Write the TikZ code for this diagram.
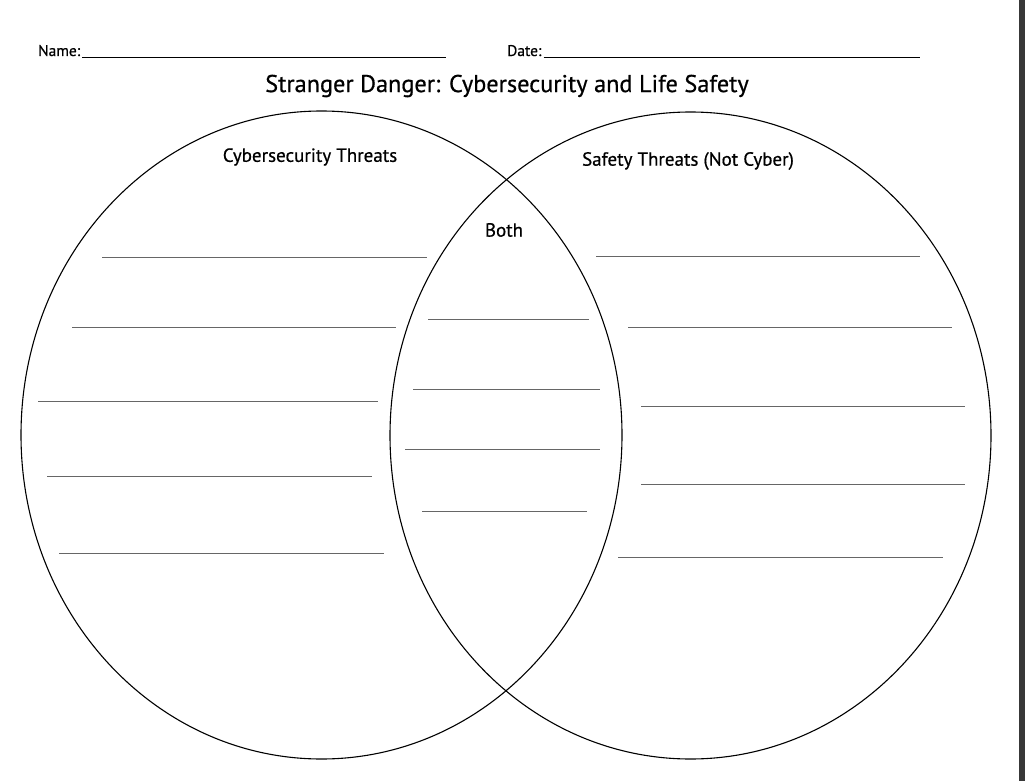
\documentclass[tikz,border=0pt]{standalone}
\usepackage{fontspec}
\setmainfont{PT Sans}
\newfontfamily\semibold[FakeBold=0.6]{PT Sans}
\usetikzlibrary{positioning}

\begin{document}
\begin{tikzpicture}[
    x=1pt, y=-1pt,
    circ/.style={draw=black, line width=1.1pt},
    writeline/.style={draw=black!60, line width=0.8pt},
    label/.style={font=\semibold\fontsize{19}{22}\selectfont, inner sep=0pt},
    header/.style={font=\semibold\fontsize{15.5}{18}\selectfont, inner sep=0pt, anchor=base west}
]

% page
\useasboundingbox (0,0) rectangle (1025,781);
\fill[white] (0,0) rectangle (1025,781);
\fill[black!78] (1019,0) rectangle (1025,781);

% -------------------------
% Header
% -------------------------
\node[header] (Name) at (38,56) {Name:};
\coordinate (NameEnd) at (446,57);
\draw[line width=0.9pt] ([xshift=2pt,yshift=-1pt]Name.base east) -- (NameEnd);

\node[header] (Date) at (507,56) {Date:};
\coordinate (DateEnd) at (920,57);
\draw[line width=0.9pt] ([xshift=2pt,yshift=-1pt]Date.base east) -- (DateEnd);

% Title
\node[font=\semibold\fontsize{24.3}{28}\selectfont, inner sep=0pt] (Title) at (507,86)
    {Stranger Danger: Cybersecurity and Life Safety};

% -------------------------
% Venn circles
% -------------------------
\draw[circ] (321.5,435) ellipse (300.5pt and 324pt);
\draw[circ] (690.5,435.5) ellipse (300.5pt and 323.5pt);

% Section labels
\node[label] (Cyber) at (310,157) {Cybersecurity Threats};
\node[label] (Safety) at (688,161) {Safety Threats (Not Cyber)};
\node[label] (Both) at (504,230) {Both};

% -------------------------
% Writing lines
% -------------------------

% left
\foreach \xa/\xb/\y in {102/427/257, 72/396/327, 38/378/401, 47/372/476, 59/384/553}
    \draw[writeline] (\xa,\y) -- (\xb,\y);

% middle
\foreach \xa/\xb/\y in {428/589/319, 413/600/389, 405/600/449.5, 422/587/511.5}
    \draw[writeline] (\xa,\y) -- (\xb,\y);

% right
\foreach \xa/\xb/\y in {596/920/256, 628/952/327, 641/965/406, 641/965/484, 618/943/557}
    \draw[writeline] (\xa,\y) -- (\xb,\y);

\end{tikzpicture}
\end{document}
